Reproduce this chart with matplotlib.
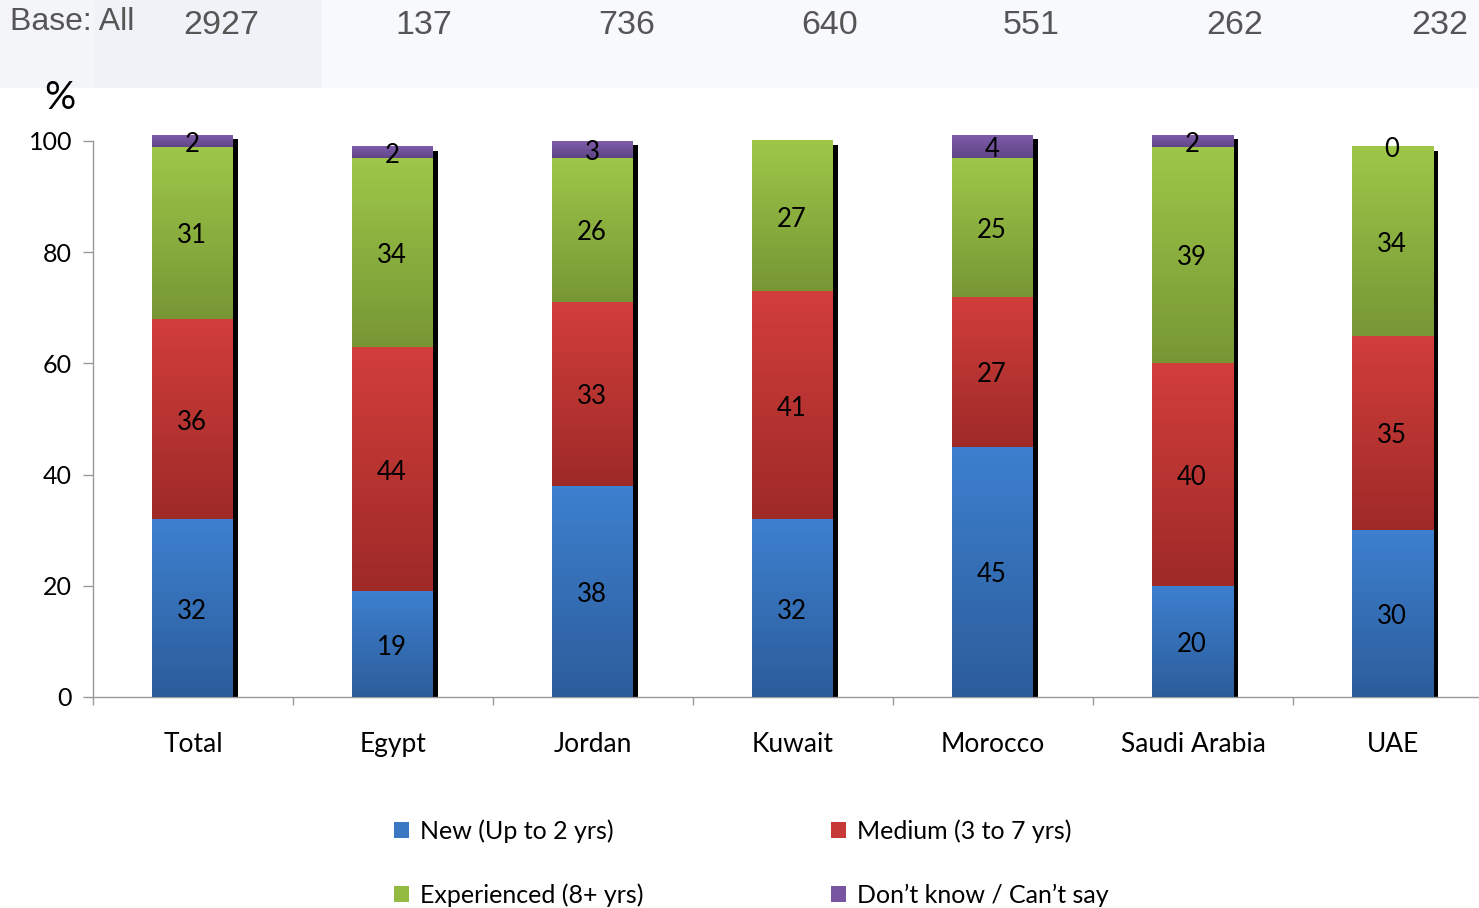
import numpy as np
import matplotlib
matplotlib.use("Agg")
import matplotlib.pyplot as plt
import matplotlib.transforms as mtransforms
from matplotlib.patches import Rectangle, Patch
from matplotlib.colors import to_rgb

# ---------------- data ----------------
categories = ["Total", "Egypt", "Jordan", "Kuwait", "Morocco", "Saudi Arabia", "UAE"]
bases = ["2927", "137", "736", "640", "551", "262", "232"]
new_vals = [32, 19, 38, 32, 45, 20, 30]
medium_vals = [36, 44, 33, 41, 27, 40, 35]
experienced_vals = [31, 34, 26, 27, 25, 39, 34]
dontknow_vals = [2, 2, 3, np.nan, 4, 2, 0]   # Kuwait: no value shown
series_names = ["New (Up to 2 yrs)", "Medium (3 to 7 yrs)",
                "Experienced (8+ yrs)", "Don\u2019t know / Can\u2019t say"]
yticks = [0, 20, 40, 60, 80, 100]

# ---------------- style ----------------
W, H, DPI = 1479, 908, 100
grad_colors = [("#3d80cf", "#2c5d9b"),   # blue
               ("#d23e3b", "#9e2a28"),   # red
               ("#9ec748", "#779735"),   # green
               ("#7e5ca9", "#5f4587")]   # purple
solid_colors = ["#3a78c4", "#c63936", "#93bb42", "#7755a0"]
FONT = "Lato"

plt.rcParams["font.family"] = [FONT, "DejaVu Sans"]

fig = plt.figure(figsize=(W / DPI, H / DPI), dpi=DPI)

# header band
fig.patches.append(Rectangle((0, 1 - 88 / H), 1, 88 / H, transform=fig.transFigure,
                             facecolor="#f8f9fc", edgecolor="none", zorder=0))
fig.patches.append(Rectangle((0, 1 - 88 / H), 95 / W, 88 / H, transform=fig.transFigure,
                             facecolor="#f3f5f9", edgecolor="none", zorder=0))
fig.patches.append(Rectangle((95 / W, 1 - 88 / H), (322 - 95) / W, 88 / H,
                             transform=fig.transFigure,
                             facecolor="#eff3f8", edgecolor="none", zorder=0))

fig.text(10 / W, 1 - 22 / H, "Base: All", ha="left", va="center",
         fontsize=23, color="#555555", family="Liberation Sans")
base_x = [221, 424, 627, 830, 1031, 1235, 1440]
for bx, b in zip(base_x, bases):
    fig.text(bx / W, 1 - 26 / H, b, ha="center", va="center",
             fontsize=24.5, color="#555555", family="Liberation Sans")

# axes
ax_left, ax_right = 93, 1493
ax_bottom, ax_top = 697, 141
ax = fig.add_axes([ax_left / W, 1 - ax_bottom / H, (ax_right - ax_left) / W,
                   (ax_bottom - ax_top) / H])
ax.set_facecolor("none")

x = np.arange(len(categories))
bar_w = 0.405
px_x = (ax_right - ax_left) / len(categories)     # px per x unit
px_y = (ax_bottom - ax_top) / 100.0               # px per y unit

series = [np.array(new_vals, float), np.array(medium_vals, float),
          np.array(experienced_vals, float), np.array(dontknow_vals, float)]
totals = np.nansum(np.vstack(series), axis=0)

# shadow
ax.bar(x - 1 / px_x + 5 / px_x, totals - 4 / px_y, bar_w, bottom=0, color="black",
       zorder=1, clip_on=False)

label_tr = mtransforms.offset_copy(ax.transData, fig=fig, x=0, y=-3, units="dots")

bottom = np.zeros(len(categories))
for s, (ctop, cbot) in zip(series, grad_colors):
    vals = np.nan_to_num(s)
    bars = ax.bar(x - 1 / px_x, vals, bar_w, bottom=bottom, color=cbot, zorder=2,
                  clip_on=False, linewidth=0)
    grad = np.linspace(0, 1, 256)[:, None, None]
    img = (1 - grad) * np.array(to_rgb(ctop)) + grad * np.array(to_rgb(cbot))
    for p in bars:
        if p.get_height() <= 0:
            continue
        x0, y0 = p.get_x(), p.get_y()
        im = ax.imshow(img, extent=(x0, x0 + p.get_width(), y0, y0 + p.get_height()),
                       origin="upper", aspect="auto", zorder=3, interpolation="bilinear")
        im.set_clip_on(False)
    for xi, v, b in zip(x, s, bottom):
        if np.isnan(v):
            continue
        ax.text(xi - 1 / px_x, b + v / 2, f"{int(v)}", ha="center", va="center",
                fontsize=18.5, color="black", zorder=5, transform=label_tr)
    bottom = bottom + vals

ax.set_xlim(-0.5, len(categories) - 0.5)
ax.set_ylim(0, 100)
ax.set_yticks(yticks)
ax.set_yticklabels([str(t) for t in yticks])
ax.set_xticks(x)
ax.set_xticklabels(categories)
ax.set_xticks(np.arange(-0.5, len(categories), 1), minor=True)
ax.tick_params(axis="x", which="major", length=0, pad=25, labelsize=19)
ax.tick_params(axis="x", which="minor", length=6, width=1, color="#999999")
ax.tick_params(axis="y", length=7, width=1, color="#999999", pad=8, labelsize=18)
for sp in ["top", "right"]:
    ax.spines[sp].set_visible(False)
for sp in ["left", "bottom"]:
    ax.spines[sp].set_color("#999999")
    ax.spines[sp].set_linewidth(1)

fig.text(60 / W, 1 - 98 / H, "%", ha="center", va="center", fontsize=28)

# legend
handles = [Patch(facecolor=c, edgecolor="none") for c in solid_colors]
order = [0, 2, 1, 3]
leg = fig.legend([handles[i] for i in order], [series_names[i] for i in order],
                 ncol=2, loc="upper left", bbox_to_anchor=(371 / W, 1 - 797 / H),
                 frameon=False, fontsize=18, handlelength=0.6, handleheight=0.6,
                 handletextpad=0.45, columnspacing=7.5, labelspacing=1.62)

fig.savefig("out.png", dpi=DPI)
